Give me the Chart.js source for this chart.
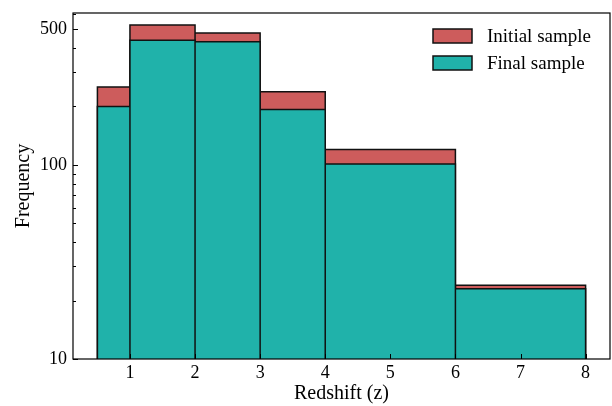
<!DOCTYPE html>
<html>
<head>
<meta charset="utf-8">
<script src="https://cdn.jsdelivr.net/npm/chart.js@4/dist/chart.umd.min.js"></script>
<style>
  html, body { margin: 0; padding: 0; background: #fff; }
  #wrap { width: 612px; height: 406px; }
</style>
</head>
<body>
<div id="wrap"><canvas id="c" width="612" height="406"></canvas></div>
<script>
// ---- data ----
const binEdges = [0.5, 1, 2, 3, 4, 6, 8];
const initialCounts = [252, 525, 478, 238, 120, 24];
const finalCounts = [200, 438, 431, 193, 101, 23];
const xTicks = [1, 2, 3, 4, 5, 6, 7, 8];
const yTicks = [10, 20, 30, 40, 50, 60, 70, 80, 90, 100, 200, 300, 400, 500, 600];
const yLabelled = [10, 100, 500];
const seriesLabels = ['Initial sample', 'Final sample'];
const yMin = 10, yMax = 606;
const xMin = 0.125, xMax = 8.375;

const SERIF = '"Liberation Serif", "DejaVu Serif", serif';
const RED = '#CD5C5C', TEAL = '#20B2AA';

// build histogram outline points (each bin a closed column down to axis min)
function histPoints(edges, counts) {
  const pts = [];
  for (let i = 0; i < counts.length; i++) {
    pts.push({x: edges[i], y: yMin});
    pts.push({x: edges[i], y: counts[i]});
    pts.push({x: edges[i + 1], y: counts[i]});
    pts.push({x: edges[i + 1], y: yMin});
  }
  return pts;
}

const frameAndTicks = {
  id: 'frameAndTicks',
  afterDatasetsDraw(chart) {
    const ctx = chart.ctx, a = chart.chartArea;
    const xs = chart.scales.x, ys = chart.scales.y;
    ctx.save();
    ctx.strokeStyle = '#000';
    ctx.lineWidth = 1;
    ctx.beginPath();
    xTicks.forEach(v => {
      const px = Math.round(xs.getPixelForValue(v)) + 0.5;
      ctx.moveTo(px, a.bottom);
      ctx.lineTo(px, a.bottom - 5);
    });
    yTicks.forEach(v => {
      const py = Math.round(ys.getPixelForValue(v)) + 0.5;
      const len = yLabelled.includes(v) ? 5 : 3;
      ctx.moveTo(a.left, py);
      ctx.lineTo(a.left + len, py);
    });
    ctx.stroke();
    ctx.lineWidth = 1.2;
    ctx.strokeRect(a.left, a.top, a.right - a.left, a.bottom - a.top);
    ctx.restore();
  },
  afterDraw(chart) {
    // legend in upper right of the plot area
    const ctx = chart.ctx;
    const ds = chart.data.datasets.slice().sort((p, q) => seriesLabels.indexOf(p.label) - seriesLabels.indexOf(q.label));
    ctx.save();
    ctx.font = '19px ' + SERIF;
    ctx.textBaseline = 'middle';
    ds.forEach((d, i) => {
      const bx = 433, by = 29 + i * 27, bw = 39, bh = 14;
      ctx.fillStyle = d.backgroundColor;
      ctx.fillRect(bx, by, bw, bh);
      ctx.strokeStyle = '#111';
      ctx.lineWidth = 1.5;
      ctx.strokeRect(bx, by, bw, bh);
      ctx.fillStyle = '#000';
      ctx.fillText(d.label, 487, by + bh / 2 + 1);
    });
    ctx.restore();
  }
};

new Chart(document.getElementById('c'), {
  type: 'line',
  data: {
    datasets: [
      {
        label: seriesLabels[1],
        data: histPoints(binEdges, finalCounts),
        backgroundColor: TEAL,
        borderColor: '#111',
        borderWidth: 1.5,
        fill: 'start',
        pointRadius: 0,
        tension: 0
      },
      {
        label: seriesLabels[0],
        data: histPoints(binEdges, initialCounts),
        backgroundColor: RED,
        borderColor: '#111',
        borderWidth: 1.5,
        fill: 'start',
        pointRadius: 0,
        tension: 0
      }
    ]
  },
  options: {
    responsive: false,
    animation: false,
    layout: { padding: { top: 13, right: 2, left: 0, bottom: 0 } },
    plugins: { legend: { display: false }, tooltip: { enabled: false } },
    scales: {
      x: {
        type: 'linear',
        min: xMin, max: xMax,
        afterBuildTicks: s => { s.ticks = xTicks.map(v => ({ value: v })); },
        afterFit: s => { s.height = 47; s.paddingLeft = 0; s.paddingRight = 0; },
        grid: { display: false, drawTicks: false },
        border: { display: false },
        ticks: { color: '#000', font: { family: SERIF, size: 18 }, padding: 3, autoSkip: false, maxRotation: 0 },
        title: { display: true, text: 'Redshift (z)', color: '#000', font: { family: SERIF, size: 20 }, padding: { top: 0, bottom: 0 } }
      },
      y: {
        type: 'logarithmic',
        min: yMin, max: yMax,
        afterBuildTicks: s => { s.ticks = yTicks.map(v => ({ value: v })); },
        afterFit: s => { s.width = 73; s.paddingTop = 0; s.paddingBottom = 0; },
        grid: { display: false, drawTicks: false },
        border: { display: false },
        ticks: {
          color: '#000', font: { family: SERIF, size: 18 }, padding: 6, autoSkip: false,
          callback: v => yLabelled.includes(v) ? String(v) : ''
        },
        title: { display: true, text: 'Frequency', color: '#000', font: { family: SERIF, size: 20 }, padding: { top: 12, bottom: 0 } }
      }
    }
  },
  plugins: [frameAndTicks]
});
</script>
</body>
</html>
